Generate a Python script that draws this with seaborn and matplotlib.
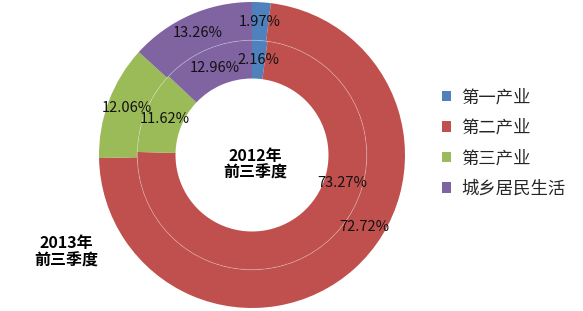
import numpy as np
import matplotlib
matplotlib.use("Agg")
import matplotlib.pyplot as plt
import seaborn as sns
from matplotlib.patches import Patch, Circle

categories = ["第一产业", "第二产业", "第三产业", "城乡居民生活"]
values_2013 = [1.97, 72.72, 12.06, 13.26]   # outer ring
values_2012 = [2.16, 73.27, 11.62, 12.96]   # inner ring
ring_labels = ["2013年\n前三季度", "2012年\n前三季度"]
colors = ["#4F81BD", "#C0504D", "#9BBB59", "#8064A2"]

sns.set_theme(style="white")
plt.rcParams['font.family'] = ['Noto Sans CJK SC', 'DejaVu Sans']

W, H = 583, 311
fig = plt.figure(figsize=(W / 100, H / 100), dpi=100)
cx, cy, R = 252, 156, 153
half = 156
ax = fig.add_axes([(cx - half) / W, (cy - half) / H, 2 * half / W, 2 * half / H])

pal = sns.color_palette(colors)
wp = dict(width=0.25, linewidth=0)
outer, _ = ax.pie(values_2013, radius=1.0, colors=pal, startangle=90,
                  counterclock=False, wedgeprops=wp)
inner, _ = ax.pie(values_2012, radius=0.75, colors=pal, startangle=90,
                  counterclock=False, wedgeprops=wp)
ax.add_patch(Circle((0, 0), 0.75, fill=False, edgecolor="white",
                    linewidth=0.6, alpha=0.3))
ax.set_xlim(-half / R, half / R)
ax.set_ylim(-half / R, half / R)
ax.set_aspect("equal")
ax.axis("off")

def add_labels(wedges, vals, r, red_angle):
    for i, (w, v) in enumerate(zip(wedges, vals)):
        ang = (w.theta1 + w.theta2) / 2
        if i == 1:
            ang = red_angle
        a = np.deg2rad(ang)
        ax.text(r * np.cos(a), r * np.sin(a), f"{v:.2f}%", ha="center",
                va="center", fontsize=10.5, color="#111111")

add_labels(outer, values_2013, 0.87, -32.5)
add_labels(inner, values_2012, 0.62, -17)

ax.text(0.02, -0.06, ring_labels[1], ha="center", va="center", fontsize=11.5,
        fontweight="bold", color="black", linespacing=1.1)
fig.text(66 / W, 1 - 252 / H, ring_labels[0], ha="center", va="center",
         fontsize=11.5, fontweight="bold", color="black", linespacing=1.1)

handles = [Patch(facecolor=c, edgecolor="none") for c in pal]
fig.legend(handles, categories, loc="center left",
           bbox_to_anchor=(426 / W, 1 - 143 / H), frameon=False,
           fontsize=12.5, handlelength=0.55, handleheight=0.55,
           handletextpad=0.6, labelspacing=0.72)

fig.savefig("out.png", dpi=100)
